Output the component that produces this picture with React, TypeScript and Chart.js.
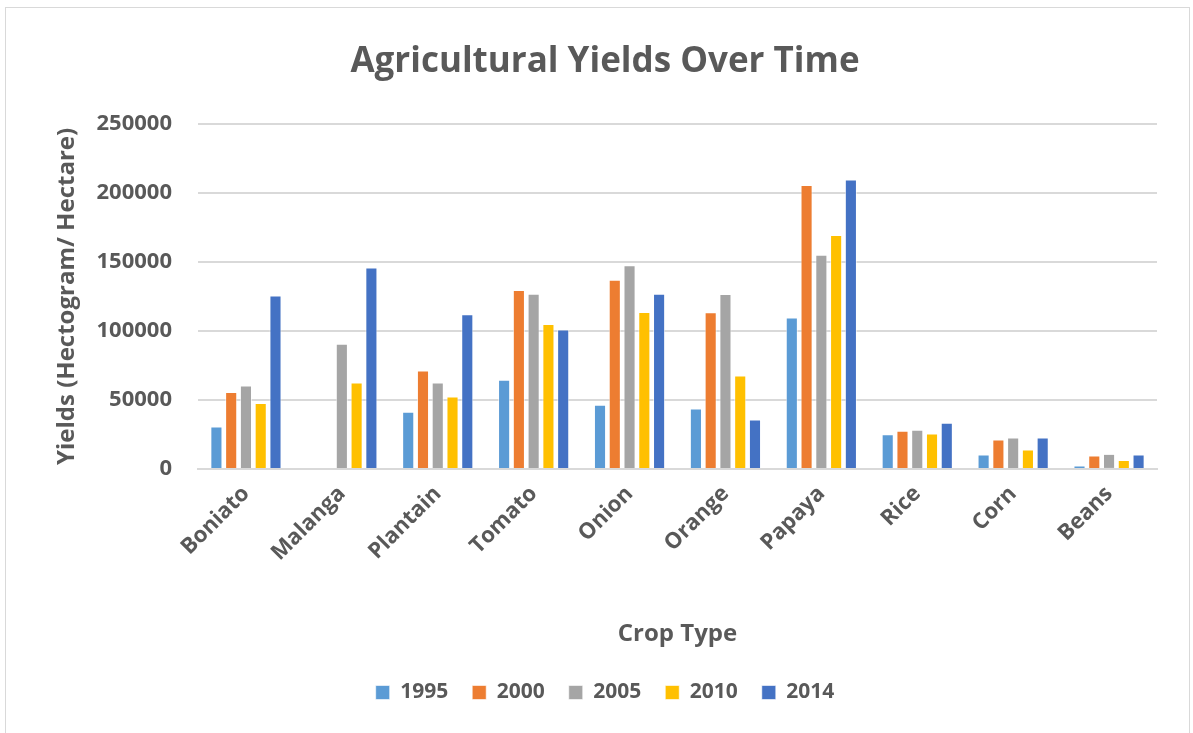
import React, { useEffect, useRef } from "react";
import { Chart, registerables } from "chart.js";

Chart.register(...registerables);

const categories = ["Boniato", "Malanga", "Plantain", "Tomato", "Onion", "Orange", "Papaya", "Rice", "Corn", "Beans"];
const seriesNames = ["1995", "2000", "2005", "2010", "2014"];
const values1995 = [30700, null, 41400, 64700, 46500, 43800, 109700, 25100, 10400, 2400];
const values2000 = [55700, null, 71400, 129600, 137100, 113600, 205700, 27600, 21300, 9700];
const values2005 = [60500, 90800, 62700, 126900, 147700, 126700, 155200, 28300, 22700, 10900];
const values2010 = [47700, 62700, 52500, 105100, 113800, 67800, 169500, 25600, 14000, 6500];
const values2014 = [125700, 146000, 112100, 101000, 126900, 35800, 209700, 33400, 22700, 10400];
const seriesColors = ["#5B9BD5", "#ED7D31", "#A5A5A5", "#FFC000", "#4472C4"];
const yTicks = [0, 50000, 100000, 150000, 200000, 250000];

const FONT = "'Open Sans', Lato, sans-serif";
const TEXT = "#595959";

export default function App() {
  const ref = useRef<HTMLCanvasElement | null>(null);
  useEffect(() => {
    if (!ref.current) return;
    const all = [values1995, values2000, values2005, values2010, values2014];
    const chart = new Chart(ref.current, {
      type: "bar",
      data: {
        labels: categories,
        datasets: seriesNames.map((n, i) => ({
          label: n,
          data: all[i],
          backgroundColor: seriesColors[i],
          borderColor: "rgba(255,255,255,0.6)",
          borderWidth: 1,
          categoryPercentage: 0.77,
          barPercentage: 0.82,
        })),
      },
      options: {
        responsive: false,
        animation: false,
        layout: { padding: { left: 47, right: 32, top: 0, bottom: 20 } },
        plugins: {
          title: {
            display: true,
            text: "Agricultural Yields Over Time",
            color: TEXT,
            font: { family: FONT, size: 35, weight: "bold" },
            padding: { top: 33, bottom: 41 },
          },
          legend: {
            position: "bottom",
            labels: {
              color: TEXT,
              font: { family: FONT, size: 21, weight: "bold" },
              boxWidth: 14,
              boxHeight: 14,
              padding: 24,
            },
          },
          tooltip: { enabled: false },
        },
        scales: {
          x: {
            grid: { display: false },
            border: { color: "#d9d9d9", width: 2 },
            ticks: {
              color: TEXT,
              font: { family: FONT, size: 22, weight: "bold" },
              maxRotation: 45,
              minRotation: 45,
              padding: 4,
            },
            title: {
              display: true,
              text: "Crop Type",
              color: TEXT,
              font: { family: FONT, size: 24, weight: "bold" },
              padding: { top: 50, bottom: 9 },
            },
          },
          y: {
            min: 0,
            max: 250000,
            afterBuildTicks: (axis: any) => {
              axis.ticks = yTicks.map((v) => ({ value: v }));
            },
            afterFit: (axis: any) => {
              axis.width = 145;
            },
            grid: { color: "#d9d9d9", lineWidth: 2, drawTicks: false },
            border: { display: false },
            ticks: {
              color: TEXT,
              font: { family: FONT, size: 22, weight: "bold" },
              padding: 26,
              callback: (v: any) => String(v),
            },
            title: {
              display: true,
              text: "Yields (Hectogram/ Hectare)",
              color: TEXT,
              font: { family: FONT, size: 24, weight: "bold" },
              padding: { top: 0, bottom: 10 },
            },
          },
        },
      },
    });
    return () => chart.destroy();
  }, []);
  return (
    <div
      style={{
        position: "absolute",
        left: 5,
        top: 7,
        width: 1185,
        height: 740,
        border: "1px solid #d9d9d9",
        background: "#fff",
        boxSizing: "border-box",
      }}
    >
      <canvas ref={ref} width={1183} height={725} style={{ display: "block" }} />
    </div>
  );
}
